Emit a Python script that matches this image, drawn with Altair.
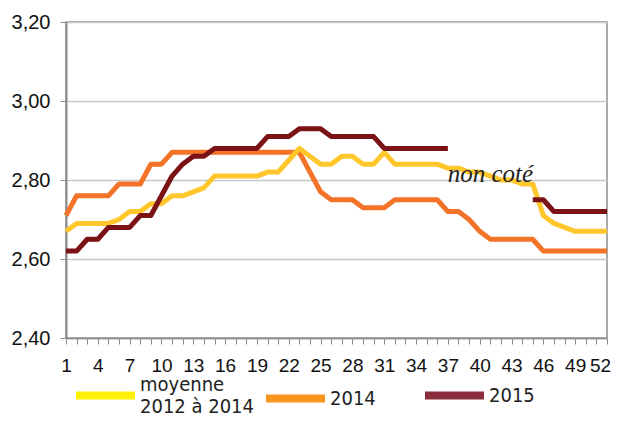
import altair as alt
import pandas as pd

weeks = list(range(1, 53))
moyenne = [2.67, 2.69, 2.69, 2.69, 2.69, 2.70, 2.72, 2.72, 2.74, 2.74,
           2.76, 2.76, 2.77, 2.78, 2.81, 2.81, 2.81, 2.81, 2.81, 2.82,
           2.82, 2.85, 2.88, 2.86, 2.84, 2.84, 2.86, 2.86, 2.84, 2.84,
           2.87, 2.84, 2.84, 2.84, 2.84, 2.84, 2.83, 2.83, 2.82, 2.82,
           2.81, 2.80, 2.80, 2.79, 2.79, 2.71, 2.69, 2.68, 2.67, 2.67,
           2.67, 2.67]
y2014 = [2.71, 2.76, 2.76, 2.76, 2.76, 2.79, 2.79, 2.79, 2.84, 2.84,
         2.87, 2.87, 2.87, 2.87, 2.87, 2.87, 2.87, 2.87, 2.87, 2.87,
         2.87, 2.87, 2.87, 2.82, 2.77, 2.75, 2.75, 2.75, 2.73, 2.73,
         2.73, 2.75, 2.75, 2.75, 2.75, 2.75, 2.72, 2.72, 2.70, 2.67,
         2.65, 2.65, 2.65, 2.65, 2.65, 2.62, 2.62, 2.62, 2.62, 2.62,
         2.62, 2.62]
y2015 = [2.62, 2.62, 2.65, 2.65, 2.68, 2.68, 2.68, 2.71, 2.71, 2.76,
         2.81, 2.84, 2.86, 2.86, 2.88, 2.88, 2.88, 2.88, 2.88, 2.91,
         2.91, 2.91, 2.93, 2.93, 2.93, 2.91, 2.91, 2.91, 2.91, 2.91,
         2.88, 2.88, 2.88, 2.88, 2.88, 2.88, 2.88, None, None, None,
         None, None, None, None, 2.75, 2.75, 2.72, 2.72, 2.72, 2.72,
         2.72, 2.72]

series_names = ["moyenne 2012 à 2014", "2014", "2015"]
line_colors = ["#FFC72C", "#F37329", "#7B1215"]
legend_colors = ["#FFF200", "#F7931E", "#8B2C3A"]

y_ticks = [2.40, 2.60, 2.80, 3.00, 3.20]

annot_text = ["non coté"]
annot_week = [41.0]
annot_value = [2.795]

rows = []
for s, vals in zip(series_names, [moyenne, y2014, y2015]):
    seg = 0
    prev_none = False
    for w, v in zip(weeks, vals):
        if v is None:
            prev_none = True
            continue
        if prev_none:
            seg += 1
            prev_none = False
        rows.append({"week": w, "value": v, "series": s, "segment": f"{s}-{seg}"})
df = pd.DataFrame(rows)

x_enc = alt.X(
    "week:Q",
    scale=alt.Scale(domain=[1, 52], nice=False, zero=False),
    axis=alt.Axis(
        values=weeks,
        labelExpr="(datum.value - 1) % 3 == 0 ? datum.label : ''",
        labelOffset={"condition": {"test": "datum.value == 52", "value": -7}, "value": 0},
        title=None, grid=False, labelOverlap=False, labelFlush=False,
        tickSize=6, tickColor="#8c8c8c", domainColor="#8c8c8c", domainWidth=1.5,
        labelPadding=12, labelFont="Liberation Sans", labelFontSize=19,
        labelColor="#111111",
    ),
)
y_enc = alt.Y(
    "value:Q",
    scale=alt.Scale(domain=[2.40, 3.20], nice=False, zero=False),
    axis=alt.Axis(
        values=y_ticks,
        labelExpr="replace(format(datum.value, '.2f'), '.', ',')",
        title=None, grid=True, gridColor="#c8c8c8", gridWidth=1.5,
        tickSize=6, tickColor="#8c8c8c", domainColor="#8c8c8c", domainWidth=2,
        labelPadding=10, labelFont="Liberation Sans", labelFontSize=20,
        labelColor="#111111",
    ),
)

base = alt.Chart(df)


def line_layer(name, color):
    return base.transform_filter(alt.datum.series == name).mark_line(
        color=color, strokeWidth=5, strokeJoin="round"
    ).encode(x=x_enc, y=y_enc, detail="segment:N")


l2014 = line_layer("2014", line_colors[1])
lmoy = line_layer("moyenne 2012 à 2014", line_colors[0])
l2015 = line_layer("2015", line_colors[2])

annot = alt.Chart(pd.DataFrame({"week": annot_week, "value": annot_value, "label": annot_text})).mark_text(
    font="Liberation Serif", fontStyle="italic", fontSize=25, color="#222222",
    baseline="alphabetic", align="center",
).encode(x=x_enc, y=y_enc, text="label:N")


def legend_layer(name, color, lx, ly, baseline="middle"):
    return base.transform_filter(alt.datum.series == name).mark_line(opacity=0).encode(
        x=x_enc, y=y_enc,
        color=alt.Color(
            "series:N",
            scale=alt.Scale(domain=[name], range=[color]),
            legend=alt.Legend(
                title=None, orient="none", legendX=lx, legendY=ly,
                direction="horizontal", symbolType="stroke",
                symbolSize=3481, symbolStrokeWidth=8, symbolOpacity=1,
                labelFont="DejaVu Sans Condensed", labelFontSize=20,
                labelColor="#222222", labelOffset=1,
                labelLimit=300, labelBaseline=baseline,
                labelExpr="datum.label == 'moyenne 2012 à 2014' ? ['moyenne', '2012 à 2014'] : datum.label",
            ),
        ),
    )


leg1 = legend_layer("moyenne 2012 à 2014", legend_colors[0], 6, 340, baseline="line-bottom")
leg2 = legend_layer("2014", legend_colors[1], 196, 343)
leg3 = legend_layer("2015", legend_colors[2], 355, 340)

chart = alt.layer(l2014, lmoy, l2015, annot, leg1, leg2, leg3).resolve_scale(
    color="independent"
).properties(
    width=541, height=316,
    autosize=alt.AutoSizeParams(type="none"),
    padding={"left": 58, "top": 14, "right": 4, "bottom": 75},
).configure_view(stroke="#8c8c8c", strokeWidth=1.5)

chart.save("out.html", embed_options={"renderer": "svg", "actions": False})
